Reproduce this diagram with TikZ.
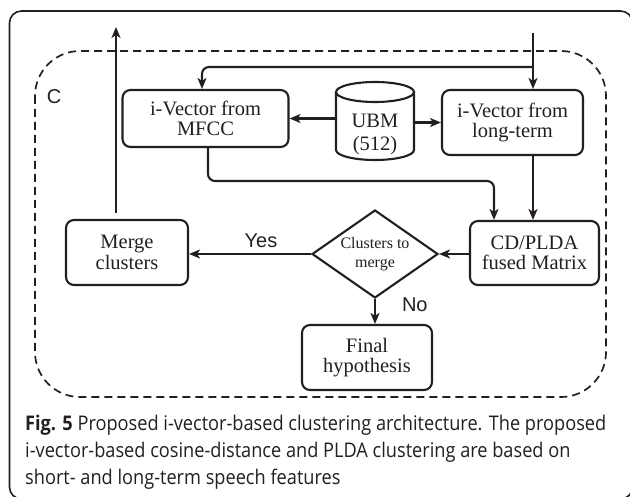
\documentclass[tikz,border=0pt]{standalone}
\usepackage{fontspec}
\setmainfont{Liberation Serif}
\newfontfamily\lsans{Liberation Sans}
\newfontfamily\capfont[FakeStretch=0.9]{Open Sans}
\usetikzlibrary{shapes.geometric,arrows.meta}
\definecolor{ink}{RGB}{35,31,32}
\begin{document}
\begin{tikzpicture}[x=1pt,y=-1pt,
  box/.style={draw=ink, line width=2.1pt, rounded corners=8pt, fill=white, align=center,
    font=\fontsize{20.5}{20.5}\selectfont, text=ink, inner sep=0pt},
  arr/.style={draw=ink, line width=2.1pt, -{Stealth[length=11pt,width=9pt,inset=3pt]}},
  dashbox/.style={draw=ink, line width=1.7pt, dash pattern=on 8pt off 5pt, rounded corners=45pt},
  frame/.style={draw=ink, line width=1.6pt, rounded corners=12pt},
  sanslabel/.style={font=\lsans\fontsize{20}{20}\selectfont, text=ink, inner sep=0pt},
  decision/.style={diamond, draw=ink, line width=2.1pt, fill=white, aspect=1.43, inner sep=0pt,
    minimum width=126pt, minimum height=88pt, align=center, text=ink,
    font=\fontsize{16}{19}\selectfont}
]
\clip (0,0) rectangle (630,497);
% outer frame
\draw[frame] (9.5,11) rectangle (632.5,499);
% dashed container
\draw[dashbox] (35,51) rectangle (606,397);
\node[sanslabel] (clabel) at (54,97) {C};

% boxes
\node[box, minimum width=166pt, minimum height=57pt] (mfcc) at (205.5,118.5) {i-Vector from\\MFCC};
\node[box, minimum width=141pt, minimum height=65pt] (lt) at (512.5,122.5) {i-Vector from\\long-term};
\node[box, minimum width=129pt, minimum height=64pt] (cd) at (534.5,253) {CD/PLDA\\fused Matrix};
\node[box, minimum width=122pt, minimum height=65pt] (merge) at (127,252.5) {Merge\\clusters};
\node[box, minimum width=130pt, minimum height=65pt] (final) at (367,357.5) {Final\\hypothesis};
\node[decision] (dec) at (375,254) {Clusters to\\merge};

% UBM cylinder
\node[minimum width=78pt, minimum height=78pt, inner sep=0pt] (ubm) at (375,121) {};
\path[draw=ink, line width=2.1pt, fill=white]
  (336,92) -- (336,150) arc[start angle=180, end angle=360, x radius=39pt, y radius=10pt]
  -- (414,92) arc[start angle=0, end angle=180, x radius=39pt, y radius=10pt] -- cycle;
\draw[ink, line width=2.1pt] (336,92) arc[start angle=180, end angle=360, x radius=39pt, y radius=10pt];
\node[align=center, text=ink, inner sep=0pt, font=\fontsize{20.5}{23}\selectfont] (ubmlabel) at (375,134) {UBM\\(512)};

% connectors
\coordinate (out) at (116,27);
\coordinate (in) at (533,33);
\coordinate (br) at (533,67);
\coordinate (low) at (208,181);
\draw[arr] ([yshift=6pt]merge.north -| out) -- (out);
\draw[arr] (in) -- (lt.north -| in);
\draw[arr, rounded corners=7pt] (br) -| ([xshift=-3.5pt]mfcc.north);
\draw[arr, rounded corners=7pt] (mfcc.south -| low) |- ([xshift=-40.5pt]cd.north |- low) -- ([xshift=-40.5pt]cd.north);
\draw[arr] (lt.south -| in) -- (cd.north -| in);
\draw[arr] (ubm.west |- mfcc.east) -- (mfcc.east);
\draw[arr] (ubm.east |- lt.west) -- (lt.west);
\draw[arr] (cd.west |- dec.east) -- (dec.east);
\draw[arr] (dec.west) -- (merge.east |- dec.west)
  node[sanslabel, pos=0.41, above=5pt] (yes) {Yes};
\draw[arr] (dec.south) -- (dec.south |- final.north)
  node[sanslabel, pos=0.22, anchor=west, xshift=26pt] (no) {No};

% caption
\node[anchor=base west, align=left, inner sep=0pt, text=ink,
  font=\capfont\fontsize{20.2}{27}\selectfont] (caption) at (25,484)
  {{\bfseries Fig. 5} Proposed i-vector-based clustering architecture. The proposed\\
   i-vector-based cosine-distance and PLDA clustering are based on\\
   short- and long-term speech features};
\end{tikzpicture}
\end{document}
